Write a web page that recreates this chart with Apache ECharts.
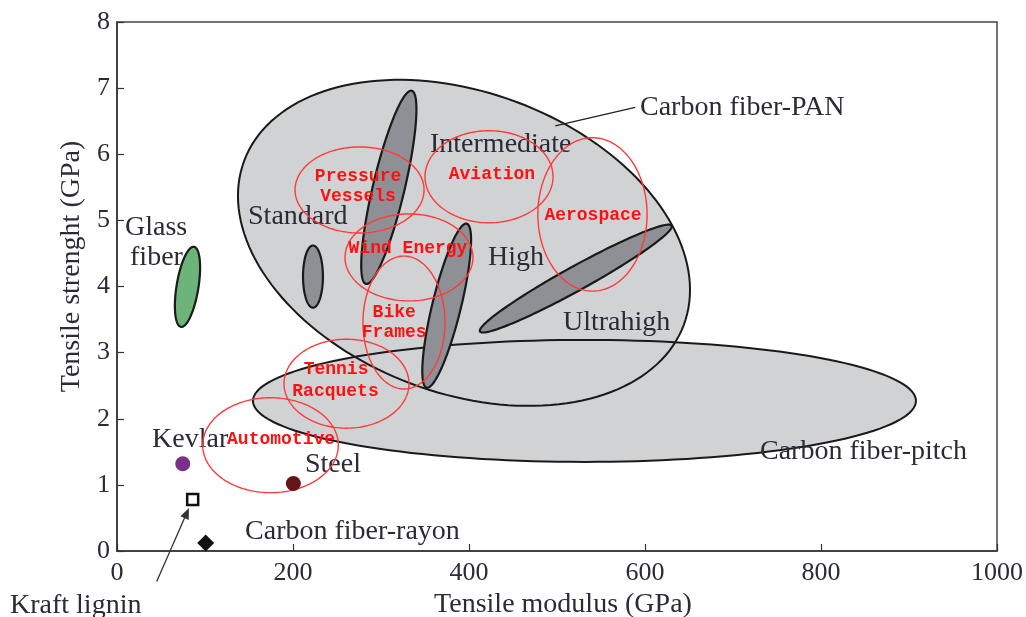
<!DOCTYPE html>
<html><head><meta charset="utf-8">
<script src="https://cdn.jsdelivr.net/npm/echarts@6/dist/echarts.min.js"></script>
<style>html,body{margin:0;padding:0;background:#fff}#c{width:1026px;height:617px}</style>
</head><body><div id="c"></div>
<script>
// ---- axis ticks ----
const xTicks = [0, 200, 400, 600, 800, 1000];
const yTicks = [0, 1, 2, 3, 4, 5, 6, 7, 8];

// ---- ellipses: major-axis end points (modulus GPa, strength GPa) + minor/major ratio ----
const regionNames = ['Carbon fiber-pitch', 'Carbon fiber-PAN'];
const regionAxes = [
  [154.5, 2.27, 907.9, 2.27, 0.184],
  [144.5, 5.90, 644.1, 3.42, 0.641]
];
const gradeNames = ['Standard', 'Intermediate', 'High', 'Ultrahigh'];
const gradeAxes = [
  [222.7, 4.62, 222.7, 3.68, 0.32],
  [334.9, 6.96, 282.9, 4.04, 0.16],
  [397.4, 4.95, 351.9, 2.47, 0.17],
  [630.3, 4.92, 412.5, 3.32, 0.11]
];
const glassNames = ['Glass fiber'];
const glassAxes = [[87.5, 4.60, 72.7, 3.39, 0.27]];
const applicationNames = ['Pressure Vessels', 'Aviation', 'Aerospace', 'Wind Energy', 'Bike Frames', 'Tennis Racquets', 'Automotive'];
const applicationAxes = [
  [202.3, 5.46, 348.9, 5.46, 0.667],
  [350.0, 5.66, 495.5, 5.66, 0.719],
  [540.3, 6.25, 540.3, 3.93, 0.712],
  [259.1, 4.44, 404.5, 4.44, 0.680],
  [326.1, 4.46, 326.1, 2.45, 0.617],
  [189.8, 2.53, 331.8, 2.53, 0.712],
  [97.4, 1.60, 251.5, 1.60, 0.700]
];

// ---- single materials ----
const materials = ['Kevlar', 'Steel', 'Kraft lignin', 'Carbon fiber-rayon'];
const modulus = [74.7, 200.4, 86.0, 100.8];
const strength = [1.32, 1.02, 0.78, 0.12];

// ---- annotation texts [text, modulus, strength] ----
const blackLabels = [
  ['Glass', 9.1, 4.89], ['fiber', 14.8, 4.43], ['Standard', 148.9, 5.05],
  ['Intermediate', 355.7, 6.14], ['High', 421.6, 4.43], ['Ultrahigh', 506.8, 3.45],
  ['Carbon fiber-PAN', 594.3, 6.70], ['Carbon fiber-pitch', 730.7, 1.50],
  ['Kevlar', 39.8, 1.68], ['Steel', 213.6, 1.30], ['Carbon fiber-rayon', 145.5, 0.29],
  ['Kraft lignin', -121.6, -0.82]
];
const redLabels = [
  ['Pressure', 273.9, 5.67], ['Vessels', 273.9, 5.36], ['Aviation', 426.1, 5.69],
  ['Aerospace', 540.9, 5.07], ['Wind Energy', 330.7, 4.57], ['Bike', 315.0, 3.60],
  ['Frames', 315.0, 3.30], ['Tennis', 248.9, 2.74], ['Racquets', 248.3, 2.42],
  ['Automotive', 186.4, 1.69]
];
const leaderLine = [[588.9, 6.71, 498.0, 6.43]];
const arrowLine = [[45.1, -0.46, 81.8, 0.65]];

const serif = '"Liberation Serif", "DejaVu Serif", serif';
const mono = '"Liberation Mono", "DejaVu Sans Mono", monospace';
const textColor = '#2b2b38';

function ellipseItem(fill, stroke, lw) {
  return function (params, api) {
    const p1 = api.coord([api.value(0), api.value(1)]);
    const p2 = api.coord([api.value(2), api.value(3)]);
    const ratio = api.value(4);
    const cx = (p1[0] + p2[0]) / 2, cy = (p1[1] + p2[1]) / 2;
    const dx = p2[0] - p1[0], dy = p2[1] - p1[1];
    const a = Math.hypot(dx, dy) / 2, b = a * ratio, t = Math.atan2(dy, dx);
    const pts = [];
    for (let i = 0; i < 160; i++) {
      const u = i / 160 * 2 * Math.PI;
      const ex = a * Math.cos(u), ey = b * Math.sin(u);
      pts.push([cx + ex * Math.cos(t) - ey * Math.sin(t), cy + ex * Math.sin(t) + ey * Math.cos(t)]);
    }
    return { type: 'polygon', shape: { points: pts }, style: { fill: fill, stroke: stroke, lineWidth: lw } };
  };
}
function textItem(list, font, color, align) {
  return function (params, api) {
    const p = api.coord([api.value(0), api.value(1)]);
    return { type: 'text', x: p[0], y: p[1],
      style: { text: list[params.dataIndex][0], font: font, fill: color, align: align, verticalAlign: 'middle' } };
  };
}
function ellipseSeries(name, axes, names, fill, stroke, lw, z) {
  return { type: 'custom', name: name, z: z, clip: false, silent: true,
    dimensions: ['x1', 'y1', 'x2', 'y2', 'ratio'], encode: { x: [0, 2], y: [1, 3] },
    data: axes.map((d, i) => ({ name: names[i], value: d })),
    renderItem: ellipseItem(fill, stroke, lw) };
}
function labelSeries(list, font, color, align, z) {
  return { type: 'custom', z: z, clip: false, silent: true,
    encode: { x: 0, y: 1 }, data: list.map(d => [d[1], d[2]]),
    renderItem: textItem(list, font, color, align) };
}

const chart = echarts.init(document.getElementById('c'));
const axisCommon = {
  type: 'value', splitLine: { show: false },
  axisLine: { show: true, lineStyle: { color: '#333', width: 1.5 } },
  axisTick: { show: true, inside: true, length: 7, lineStyle: { color: '#333', width: 1.2 } },
  axisLabel: { fontFamily: serif, fontSize: 26, color: textColor, formatter: v => String(v) },
  nameTextStyle: { fontFamily: serif, fontSize: 28, color: textColor }
};
chart.setOption({
  animation: false,
  backgroundColor: '#fff',
  grid: { left: 117, right: 29, top: 22, bottom: 66, containLabel: false, outerBoundsMode: 'none',
    show: true, borderColor: '#444', borderWidth: 1.5, backgroundColor: 'transparent' },
  xAxis: Object.assign({}, axisCommon, {
    min: xTicks[0], max: xTicks[xTicks.length - 1], interval: xTicks[1] - xTicks[0],
    name: 'Tensile modulus (GPa)', nameLocation: 'middle', nameGap: 40,
    axisLabel: Object.assign({}, axisCommon.axisLabel, { margin: 9 }),
    nameTextStyle: Object.assign({}, axisCommon.nameTextStyle, { padding: [0, 0, 0, 12] })
  }),
  yAxis: Object.assign({}, axisCommon, {
    min: yTicks[0], max: yTicks[yTicks.length - 1], interval: yTicks[1] - yTicks[0],
    name: 'Tensile strenght (GPa)', nameLocation: 'middle', nameGap: 21,
    axisLabel: Object.assign({}, axisCommon.axisLabel, { margin: 7 }),
    nameTextStyle: Object.assign({}, axisCommon.nameTextStyle, { padding: [0, 0, 0, 40] })
  }),
  series: [
    ellipseSeries('fill', regionAxes, regionNames, '#d1d2d4', 'none', 0, 1),
    ellipseSeries('outline', regionAxes, regionNames, 'none', '#1a1a1a', 2, 2),
    ellipseSeries('grades', gradeAxes, gradeNames, '#8f9095', '#1a1a1a', 2.2, 3),
    ellipseSeries('glass', glassAxes, glassNames, '#6db47a', '#1a1a1a', 2.2, 3),
    labelSeries(blackLabels, '28px ' + serif, textColor, 'left', 4),
    ellipseSeries('applications', applicationAxes, applicationNames, 'none', '#ff3a3a', 1.4, 5),
    labelSeries(redLabels, 'bold 18px ' + mono, '#ff1010', 'center', 6),
    { type: 'custom', z: 4, clip: false, silent: true, encode: { x: [0, 2], y: [1, 3] }, data: leaderLine,
      renderItem: function (params, api) {
        const a = api.coord([api.value(0), api.value(1)]), b = api.coord([api.value(2), api.value(3)]);
        return { type: 'line', shape: { x1: a[0], y1: a[1], x2: b[0], y2: b[1] }, style: { stroke: '#222', lineWidth: 1.3 } };
      } },
    { type: 'custom', z: 7, clip: false, silent: true, encode: { x: [0, 2], y: [1, 3] }, data: arrowLine,
      renderItem: function (params, api) {
        const a = api.coord([api.value(0), api.value(1)]), b = api.coord([api.value(2), api.value(3)]);
        const t = Math.atan2(b[1] - a[1], b[0] - a[0]), L = 11, W = 4.5;
        const bx = b[0] - L * Math.cos(t), by = b[1] - L * Math.sin(t);
        return { type: 'group', children: [
          { type: 'line', shape: { x1: a[0], y1: a[1], x2: bx, y2: by }, style: { stroke: '#333', lineWidth: 1.3 } },
          { type: 'polygon', shape: { points: [[b[0], b[1]], [bx - W * Math.sin(t), by + W * Math.cos(t)], [bx + W * Math.sin(t), by - W * Math.cos(t)]] }, style: { fill: '#333' } }
        ] };
      } },
    { type: 'scatter', z: 8, silent: true,
      data: [
        { name: materials[0], value: [modulus[0], strength[0]], symbol: 'circle', symbolSize: 15, itemStyle: { color: '#7a3088', opacity: 1 } },
        { name: materials[1], value: [modulus[1], strength[1]], symbol: 'circle', symbolSize: 15, itemStyle: { color: '#641515', opacity: 1 } },
        { name: materials[2], value: [modulus[2], strength[2]], symbol: 'rect', symbolSize: 11, itemStyle: { color: '#fff', borderColor: '#111', borderWidth: 2.5, opacity: 1 } },
        { name: materials[3], value: [modulus[3], strength[3]], symbol: 'diamond', symbolSize: [17, 17], itemStyle: { color: '#111', opacity: 1 } }
      ] }
  ]
});
</script></body></html>
